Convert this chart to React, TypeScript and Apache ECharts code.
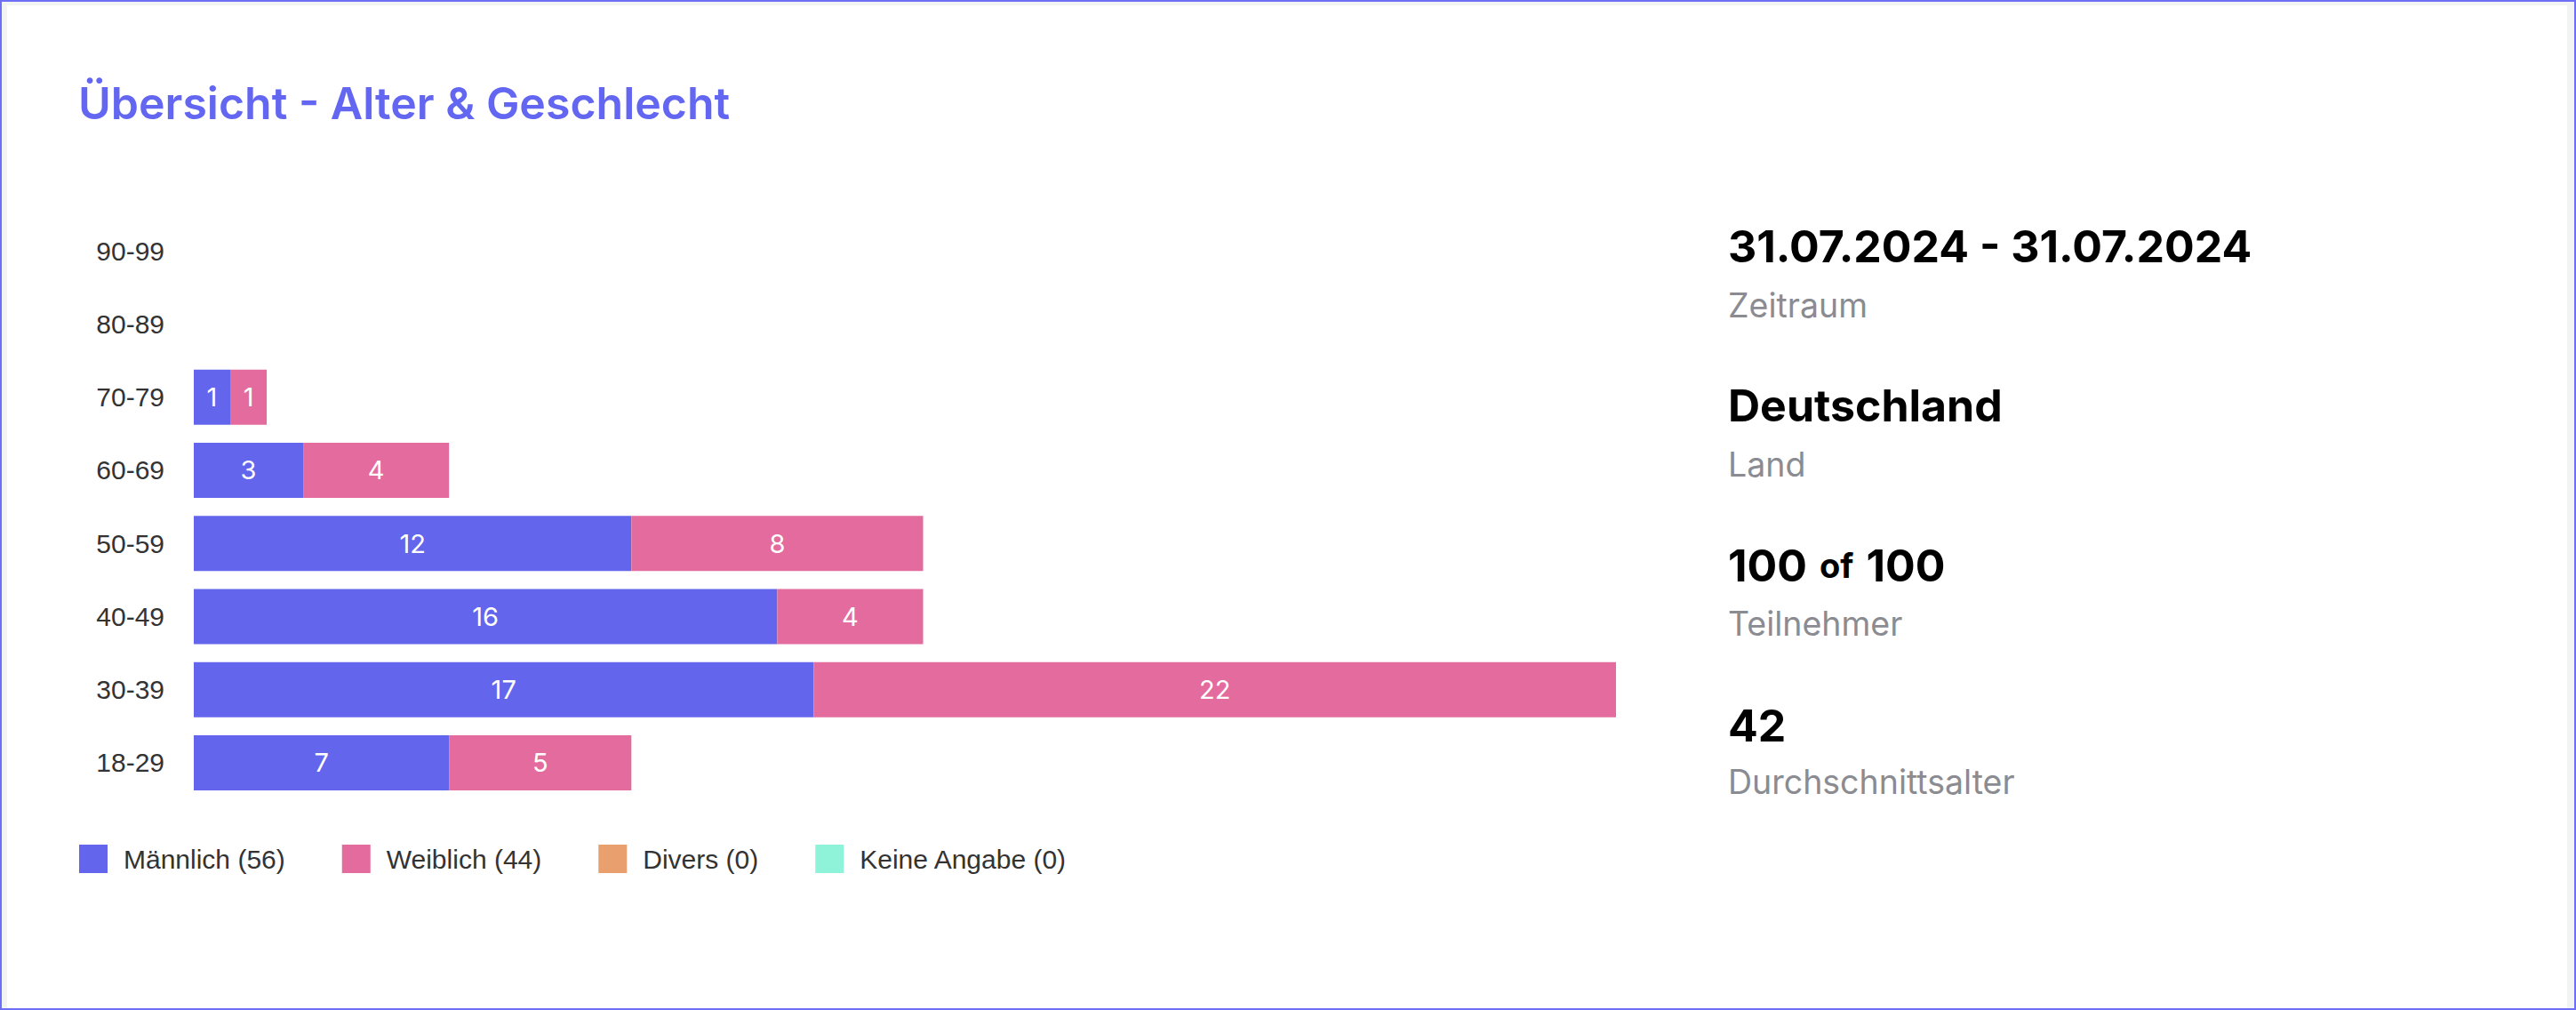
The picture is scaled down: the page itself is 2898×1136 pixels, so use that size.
import React, { useEffect, useRef } from "react";
import * as echarts from "echarts";

const categories = ["18-29", "30-39", "40-49", "50-59", "60-69", "70-79", "80-89", "90-99"];
const maleValues = [7, 17, 16, 12, 3, 1, 0, 0];
const femaleValues = [5, 22, 4, 8, 4, 1, 0, 0];
const diversValues = [0, 0, 0, 0, 0, 0, 0, 0];
const keineValues = [0, 0, 0, 0, 0, 0, 0, 0];

const seriesNames = ["Männlich", "Weiblich", "Divers", "Keine Angabe"];
const seriesColors = ["#6366ec", "#e46b9d", "#e9a06e", "#8ef3d8"];

const titleText = "Übersicht - Alter & Geschlecht";
const periodText = "31.07.2024 - 31.07.2024";
const countryText = "Deutschland";
const participants = 100;
const participantsTotal = 100;
const averageAge = 42;
const subLabels = ["Zeitraum", "Land", "Teilnehmer", "Durchschnittsalter"];

const OX = 8;
const OY = 6;

const sum = (a: number[]) => a.reduce((s, v) => s + v, 0);

export default function App() {
  const ref = useRef<HTMLDivElement>(null);
  useEffect(() => {
    if (!ref.current) return;
    const chart = echarts.init(ref.current, undefined, { renderer: "svg" });
    const allValues = [maleValues, femaleValues, diversValues, keineValues];
    const totals = categories.map((_, i) => allValues.reduce((s, arr) => s + arr[i], 0));
    const xMax = Math.max(...totals);
    const bigFont = "Inter, 'Noto Sans', sans-serif";
    const axisFont = "'Liberation Sans', Arial, sans-serif";
    const rightX = 1944 - OX;
    const bigYs = [277, 456, 636, 816];
    const subYs = [343, 522, 701, 879];
    const bigTexts = [periodText, countryText, null, String(averageAge)];

    const graphics: any[] = [
      {
        type: "text",
        left: 88 - OX,
        top: 116 - OY - 25,
        style: {
          text: titleText,
          fill: "#6366f1",
          font: `600 50px ${bigFont}`,
        },
      },
    ];
    bigYs.forEach((y, i) => {
      if (bigTexts[i] !== null) {
        graphics.push({
          type: "text",
          x: rightX,
          y: y - OY,
          style: {
            text: bigTexts[i],
            fill: "#000000",
            font: `700 50px ${bigFont}`,
            verticalAlign: "middle",
          },
        });
      } else {
        graphics.push({
          type: "text",
          x: rightX,
          y: y - OY,
          style: {
            text: `{a|${participants}}{s| }{b|of}{s| }{a|${participantsTotal}}`,
            verticalAlign: "middle",
            rich: {
              a: { fontSize: 50, fontWeight: 700, fontFamily: bigFont, fill: "#000", color: "#000" },
              b: { fontSize: 38, fontWeight: 700, fontFamily: bigFont, fill: "#000", color: "#000" },
              s: { fontSize: 50, fontWeight: 700, fontFamily: bigFont, width: 14 },
            },
          },
        });
      }
      graphics.push({
        type: "text",
        x: rightX,
        y: subYs[i] - OY,
        style: {
          text: subLabels[i],
          fill: "#8b8b92",
          font: `400 37.5px ${bigFont}`,
          verticalAlign: "middle",
        },
      });
    });

    const option: any = {
      animation: false,
      backgroundColor: "#ffffff",
      grid: {
        left: 218 - OX,
        top: 241 - OY,
        width: 1600,
        height: 658,
        containLabel: false,
      },
      xAxis: {
        type: "value",
        min: 0,
        max: xMax,
        show: false,
      },
      yAxis: {
        type: "category",
        data: categories,
        axisLine: { show: false },
        axisTick: { show: false },
        splitLine: { show: false },
        axisLabel: {
          fontSize: 30,
          color: "#333333",
          fontFamily: axisFont,
          margin: 33,
        },
      },
      legend: {
        left: 89 - OX - 5,
        top: 949 - OY - 5 + 1,
        itemWidth: 32,
        itemHeight: 32,
        itemGap: 64,
        icon: "rect",
        selectedMode: false,
        textStyle: {
          fontSize: 30,
          color: "#333333",
          fontFamily: axisFont,
          padding: [0, 0, 0, 13],
        },
        data: seriesNames.map((n, i) => `${n} (${sum(allValues[i])})`),
      },
      graphic: graphics,
      series: allValues.map((vals, i) => ({
        type: "bar",
        name: `${seriesNames[i]} (${sum(vals)})`,
        stack: "total",
        barWidth: 62,
        data: vals,
        itemStyle: { color: seriesColors[i] },
        label: {
          show: true,
          position: "inside",
          color: "#ffffff",
          fontSize: 29,
          fontFamily: bigFont,
          formatter: (p: any) => (p.value > 0 ? String(p.value) : ""),
        },
      })),
    };
    chart.setOption(option);
    return () => chart.dispose();
  }, []);

  return (
    <div
      style={{
        position: "fixed",
        left: 0,
        top: 0,
        width: 2898,
        height: 1136,
        boxSizing: "border-box",
        border: "2px solid #6e6ef7",
        background: "#f2f4f3",
      }}
    >
      <div
        ref={ref}
        style={{
          position: "absolute",
          left: OX - 2,
          top: OY - 2,
          width: 2898 - OX - 10,
          height: 1136 - OY - 2,
        }}
      />
    </div>
  );
}
